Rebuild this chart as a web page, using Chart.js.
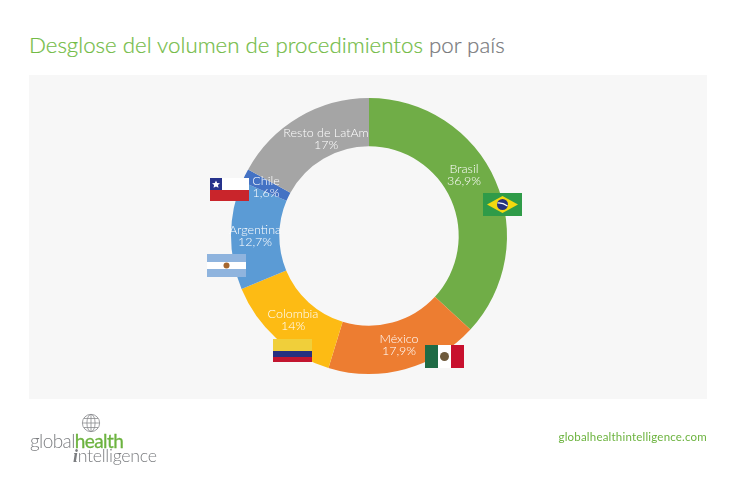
<!DOCTYPE html>
<html lang="es">
<head>
<meta charset="utf-8">
<title>Desglose del volumen de procedimientos por país</title>
<script src="https://cdn.jsdelivr.net/npm/chart.js"></script>
<style>
  html, body { margin: 0; padding: 0; background: #fff; }
  #page { position: relative; width: 736px; height: 479px; overflow: hidden; font-family: Lato, "Open Sans", sans-serif; }
  #panel { position: absolute; left: 29px; top: 75px; width: 678px; height: 324px; background: #f7f7f7; }
  #chart { position: absolute; left: 0; top: 0; }
  #title { position: absolute; left: 29px; top: 31px; font-size: 22.3px; font-weight: 300; color: #72bb45; white-space: nowrap; line-height: 28px; -webkit-text-stroke: 0.2px currentColor; }
  #title span { color: #77787b; }
  #url { position: absolute; right: 29px; top: 430px; font-size: 11.5px; color: #6cb33f; line-height: 14px; letter-spacing: 0.2px; }
  .flag { position: absolute; width: 39px; height: 23px; display: block; }
  .logo { position: absolute; white-space: nowrap; font-weight: 300; color: #7b7d80; }
  .logo b { color: #6cb33f; font-weight: 400; -webkit-text-stroke: 0.3px currentColor; }
  .logo i { font-family: "Liberation Serif", serif; font-weight: 700; }
</style>
</head>
<body>
<div id="page">
  <div id="panel"></div>
  <div id="title">Desglose del volumen de procedimientos <span>por país</span></div>
  <canvas id="chart" width="736" height="479"></canvas>

  <svg class="flag" style="left:483px;top:193px" viewBox="0 0 39 23">
    <rect width="39" height="23" fill="#2f9b48"/>
    <path d="M19.5 3 L35 11.5 L19.5 20 L4 11.5 Z" fill="#f4d90f"/>
    <circle cx="19.5" cy="11.5" r="5.5" fill="#27307f"/>
    <path d="M14.5 10 Q19.5 9.5 24.5 13" stroke="#fff" stroke-width="1.2" fill="none"/>
  </svg>
  <svg class="flag" style="left:425px;top:345px" viewBox="0 0 39 23">
    <rect width="13" height="23" fill="#1f6b45"/>
    <rect x="13" width="13" height="23" fill="#fff"/>
    <rect x="26" width="13" height="23" fill="#c8102e"/>
    <circle cx="19.5" cy="11.5" r="4.5" fill="#6e5a3c"/>
  </svg>
  <svg class="flag" style="left:273px;top:339px" viewBox="0 0 39 23">
    <rect width="39" height="12" fill="#f0cf3a"/>
    <rect y="12" width="39" height="6" fill="#27307f"/>
    <rect y="18" width="39" height="5" fill="#c2152f"/>
  </svg>
  <svg class="flag" style="left:207px;top:254px" viewBox="0 0 39 23">
    <rect width="39" height="23" fill="#8fb4de"/>
    <rect y="8" width="39" height="7" fill="#fff"/>
    <circle cx="19.5" cy="11.5" r="3" fill="#a5672f"/>
  </svg>
  <svg class="flag" style="left:210px;top:178px" viewBox="0 0 39 23">
    <rect width="39" height="12" fill="#fff"/>
    <rect y="12" width="39" height="11" fill="#c9252b"/>
    <rect width="12" height="12" fill="#26328c"/>
    <path d="M6 2.5 L7.2 5 L10 5.3 L7.9 7.1 L8.5 9.8 L6 8.4 L3.5 9.8 L4.1 7.1 L2 5.3 L4.8 5 Z" fill="#fff"/>
  </svg>

  <svg style="position:absolute;left:81px;top:413px" width="20" height="20" viewBox="0 0 22 22" fill="none" stroke="#8a8c8f" stroke-width="0.9">
    <circle cx="11" cy="11" r="9.5"/>
    <ellipse cx="11" cy="11" rx="4.5" ry="9.5"/>
    <path d="M11 1.5 V20.5 M1.5 11 H20.5 M3 6 H19 M3 16 H19"/>
  </svg>
  <div class="logo" style="left:30px;top:429px;font-size:19px;line-height:24px;letter-spacing:-0.6px">global<b>health</b></div>
  <div class="logo" style="left:73px;top:443px;font-size:17.8px;line-height:24px;letter-spacing:-0.3px"><i>i</i>ntelligence</div>
  <div id="url">globalhealthintelligence.com</div>
</div>

<script>
// Data
const countries = ['Brasil', 'México', 'Colombia', 'Argentina', 'Chile', 'Resto de LatAm'];
const shares = [36.9, 17.9, 14, 12.7, 1.6, 17];
const sliceColors = ['#70ad47', '#ed7d31', '#fdbb14', '#5b9bd5', '#4472c4', '#a5a5a5'];

// Hand placed label centres, same order as countries (the original does not centre them in the ring)
const labelSpots = [[464, 175], [399, 345], [293, 320], [255, 236], [266, 187], [326, 139]];

// Draw "name / value" labels in white on top of the slices
const sliceLabels = {
  id: 'sliceLabels',
  afterDatasetsDraw(chart) {
    const ctx = chart.ctx;
    ctx.save();
    ctx.fillStyle = '#fff';
    ctx.textAlign = 'center';
    ctx.textBaseline = 'middle';
    ctx.font = '300 12.5px Lato, sans-serif';
    countries.forEach((name, i) => {
      const [x, y] = labelSpots[i];
      ctx.fillText(name, x, y - 6);
      ctx.fillText(String(shares[i]).replace('.', ',') + '%', x, y + 6);
    });
    ctx.restore();
  },
};

new Chart(document.getElementById('chart'), {
  type: 'doughnut',
  data: {
    labels: countries,
    datasets: [
      {
        data: shares,
        backgroundColor: sliceColors,
        borderWidth: 0,
      },
    ],
  },
  options: {
    responsive: false,
    animation: false,
    cutout: '65%',
    layout: {
      padding: { left: 231, right: 229, top: 98, bottom: 105 },
    },
    plugins: {
      legend: { display: false },
      tooltip: { enabled: false },
    },
  },
  plugins: [sliceLabels],
});
</script>
</body>
</html>
